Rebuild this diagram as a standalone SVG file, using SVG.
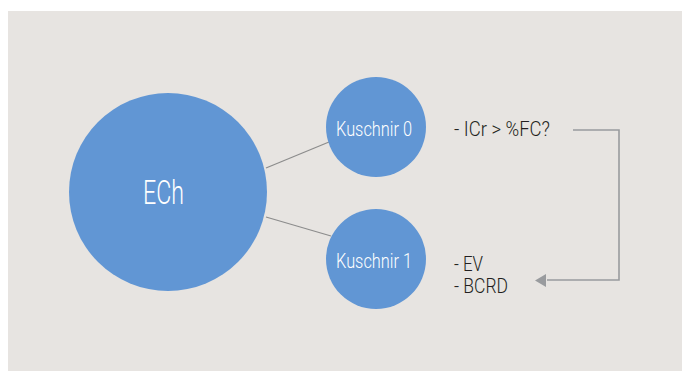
<svg xmlns="http://www.w3.org/2000/svg" width="682" height="371" viewBox="0 0 682 371">
<style>
.node{fill:#6196d4;}
.ntext{fill:#ffffff;font-family:Roboto,"Liberation Sans",sans-serif;font-weight:300;text-anchor:middle;}
.label{fill:#231f20;font-family:Roboto,"Liberation Sans",sans-serif;font-weight:300;font-size:20px;}
.edge{stroke:#8c8c8c;stroke-width:1.2;fill:none;}
.flow{stroke:#999b9e;stroke-width:1.6;fill:none;}
</style>
<rect x="8" y="11" width="674" height="360" fill="#e7e4e1"/>
<g id="connectors">
<line class="edge" x1="266" y1="168" x2="329" y2="142"/>
<line class="edge" x1="266" y1="217" x2="331" y2="236"/>
<polyline class="flow" points="573,130 619,130 619,280 547,280"/>
<path d="M546,274 L535,280.5 L546,287 Z" fill="#999b9e"/>
</g>
<g id="ECh">
<circle class="node" cx="168" cy="192" r="99"/>
<text class="ntext" x="163.5" y="204" font-size="33" textLength="41" lengthAdjust="spacingAndGlyphs">ECh</text>
</g>
<g id="Kuschnir0">
<circle class="node" cx="376" cy="127" r="50"/>
<text class="ntext" x="374" y="136" font-size="20" textLength="76" lengthAdjust="spacingAndGlyphs">Kuschnir 0</text>
</g>
<g id="Kuschnir1">
<circle class="node" cx="376" cy="259" r="50"/>
<text class="ntext" x="374" y="268" font-size="20" textLength="76" lengthAdjust="spacingAndGlyphs">Kuschnir 1</text>
</g>
<g id="labels">
<text class="label" x="454" y="136" textLength="96" lengthAdjust="spacingAndGlyphs">- ICr &gt; %FC?</text>
<text class="label" x="454" y="270.5" textLength="29" lengthAdjust="spacingAndGlyphs">- EV</text>
<text class="label" x="454" y="292.5" textLength="54" lengthAdjust="spacingAndGlyphs">- BCRD</text>
</g>
</svg>
